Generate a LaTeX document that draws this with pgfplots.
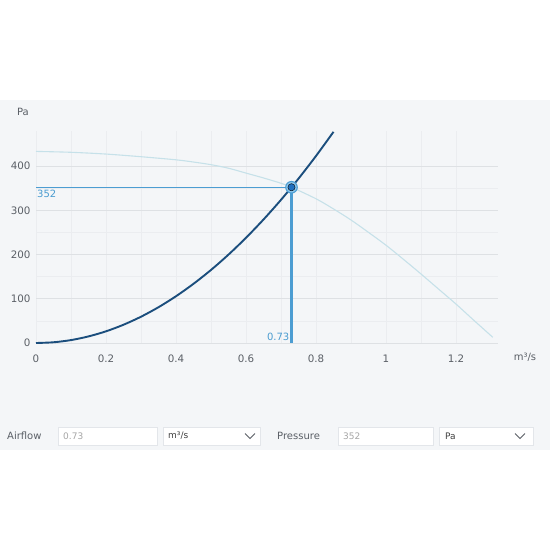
\documentclass[border=0pt]{standalone}
\usepackage{fontspec}
\setmainfont{DejaVu Sans}
\usepackage{pgfplots}
\pgfplotsset{compat=1.18}
\definecolor{panel}{HTML}{F4F6F8}
\definecolor{majgrid}{HTML}{DEE1E4}
\definecolor{mingrid}{HTML}{EBEDF0}
\definecolor{fancol}{HTML}{C6E1E9}
\definecolor{syscol}{HTML}{1B4E7D}
\definecolor{opline}{RGB}{76,157,210}
\definecolor{opring}{HTML}{8CC6EC}
\definecolor{opdot}{HTML}{1F6FBE}
\definecolor{optext}{HTML}{4A9CD0}
\definecolor{ticktext}{HTML}{5A5F66}
\definecolor{boxborder}{HTML}{E3E6EA}
\begin{document}
\begin{tikzpicture}[x=1pt,y=1pt]
\fill[white] (0,0) rectangle (550,-550);
\fill[panel] (0,-100) rectangle (550,-450);
\begin{axis}[
  at={(36pt,-343pt)}, anchor=south west,
  scale only axis, width=462pt, height=212.4pt,
  xmin=0, xmax=1.32, ymin=0, ymax=480,
  xtick={0,0.2,0.4,0.6,0.8,1,1.2},
  xticklabels={0,0.2,0.4,0.6,0.8,1,1.2},
  ytick={0,100,200,300,400},
  minor x tick num=1, minor y tick num=1,
  grid=both,
  major grid style={draw=mingrid, line width=0.8pt},
  minor grid style={draw=mingrid, line width=0.6pt},
  axis line style={draw=none},
  tick style={draw=none},
  /pgf/number format/assume math mode=true,
  ticklabel style={font=\fontsize{10.3}{12}\selectfont, text=ticktext},
  xticklabel style={yshift=-8pt},
  yticklabel style={xshift=-2pt},
  clip=false,
]
\addplot[majgrid, line width=0.8pt, forget plot] coordinates {(0,100) (1.32,100)};
\addplot[majgrid, line width=0.8pt, forget plot] coordinates {(0,200) (1.32,200)};
\addplot[majgrid, line width=0.8pt, forget plot] coordinates {(0,300) (1.32,300)};
\addplot[majgrid, line width=0.8pt, forget plot] coordinates {(0,400) (1.32,400)};
\addplot[majgrid, line width=0.8pt, forget plot] coordinates {(0,0) (1.32,0)};
% fan curve
\addplot[fancol, line width=1.1pt, smooth] coordinates {
 (0,433) (0.1,431) (0.2,427) (0.3,421) (0.4,414) (0.45,409) (0.5,403)
 (0.55,395) (0.6,384) (0.65,373) (0.7,361) (0.73,352) (0.8,326) (0.85,303)
 (0.9,278) (0.95,250) (1.0,221) (1.05,189) (1.1,156) (1.15,122) (1.2,88)
 (1.25,52) (1.305,13)};
% operating point lines
\addplot[draw=opline, line width=1.4pt] coordinates {(0,352) (0.73,352)};
\addplot[draw=opline, line width=2.2pt] coordinates {(0.73,352) (0.73,0)};
% system curve
\addplot[syscol, line width=1.9pt, smooth] table {
x y
0 0
0.05 1.65
0.1 6.6
0.15 14.9
0.2 26.4
0.25 41.3
0.3 59.4
0.35 80.9
0.4 105.7
0.45 133.8
0.5 165.1
0.55 199.8
0.6 237.8
0.65 279.1
0.7 323.6
0.75 371.5
0.8 422.7
0.85 477.2
};
% operating point marker
\addplot[only marks, mark=*, mark size=5.8pt, mark options={fill=opring, draw=opline, line width=1pt}] coordinates {(0.73,352)};
\addplot[only marks, mark=*, mark size=3.6pt, mark options={fill=opdot, draw=none}] coordinates {(0.73,352)};
\node[anchor=north west, text=optext, font=\fontsize{10}{12}\selectfont, inner sep=1pt] at (axis cs:0,349) {352};
\node[anchor=south east, text=optext, font=\fontsize{10}{12}\selectfont, inner sep=2pt] at (axis cs:0.73,0) {0.73};
\end{axis}
\node[text=ticktext, font=\fontsize{10}{12}\selectfont] at (23,-112) {Pa};
\node[text=ticktext, font=\fontsize{10}{12}\selectfont] at (525,-357) {m³/s};
% bottom controls
\node[anchor=west, text=ticktext, font=\fontsize{10}{12}\selectfont, inner sep=0] at (7,-436) {Airflow};
\draw[boxborder, fill=white, line width=0.6pt] (58,-427) rectangle (157,-445);
\node[anchor=west, text=black!35, font=\fontsize{9}{11}\selectfont, inner sep=0] at (63,-436) {0.73};
\draw[boxborder, fill=white, line width=0.6pt] (163,-427) rectangle (260,-445);
\node[anchor=west, text=black!75, font=\fontsize{9}{11}\selectfont, inner sep=0] at (168,-436) {m³/s};
\draw[ticktext, line width=0.8pt] (245,-433.5) -- (250,-438.5) -- (255,-433.5);
\node[anchor=west, text=ticktext, font=\fontsize{10}{12}\selectfont, inner sep=0] at (277,-436) {Pressure};
\draw[boxborder, fill=white, line width=0.6pt] (338,-427) rectangle (433,-445);
\node[anchor=west, text=black!35, font=\fontsize{9}{11}\selectfont, inner sep=0] at (343,-436) {352};
\draw[boxborder, fill=white, line width=0.6pt] (439,-427) rectangle (533,-445);
\node[anchor=west, text=black!75, font=\fontsize{9}{11}\selectfont, inner sep=0] at (445,-436) {Pa};
\draw[ticktext, line width=0.8pt] (515,-433.5) -- (520,-438.5) -- (525,-433.5);
\end{tikzpicture}
\end{document}
